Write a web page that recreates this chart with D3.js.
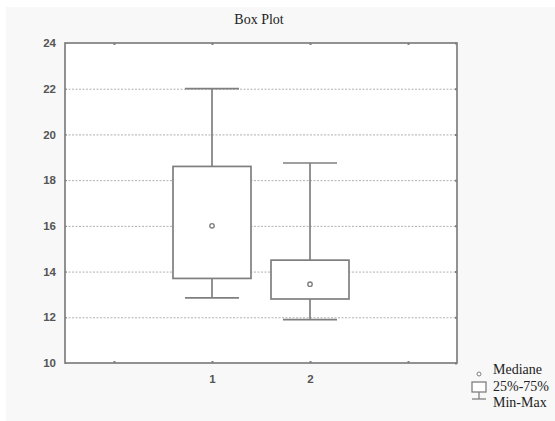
<!DOCTYPE html>
<html lang="en">
<head>
  <meta charset="UTF-8">
  <title>Box Plot</title>
  <script src="https://d3js.org/d3.v7.min.js"></script>
  <style>
    body { margin: 0; padding: 0; background: #fff; }
    svg { display: block; }
  </style>
</head>
<body>
  <svg width="555" height="421"></svg>
  <script>
    // dati
    const groups = [1, 2];
    const mins = [12.85, 11.9];
    const q1s = [13.7, 12.8];
    const medians = [16, 13.45];
    const q3s = [18.6, 14.5];
    const maxs = [22, 18.75];
    const yTicks = [10, 12, 14, 16, 18, 20, 22, 24];
    const xTicks = [0, 1, 2, 3];
    const legendLabels = ["Mediane", "25%-75%", "Min-Max"];

    const data = groups.map((g, i) => ({
      g, min: mins[i], q1: q1s[i], med: medians[i], q3: q3s[i], max: maxs[i]
    }));

    const svg = d3.select("svg");
    const lineCol = "#7f7f7f";

    // sfondo grigio chiaro
    svg.append("rect").attr("x", 6).attr("y", 7).attr("width", 549).attr("height", 414)
      .attr("fill", "#f8f8f8");

    const margin = {top: 43, left: 65, right: 98, bottom: 58};
    const W = 555 - margin.left - margin.right;
    const H = 421 - margin.top - margin.bottom;

    const x = d3.scaleLinear().domain([-0.5, 3.5]).range([0, W]);
    const y = d3.scaleLinear().domain([10, 24]).range([H, 0]);

    const g = svg.append("g").attr("transform", `translate(${margin.left},${margin.top})`);

    g.append("rect").attr("width", W).attr("height", H).attr("fill", "#fff");

    // griglia orizzontale tratteggiata
    g.append("g")
      .call(d3.axisLeft(y).tickValues(yTicks.slice(1, -1)).tickSize(-W).tickFormat(""))
      .call(s => s.select(".domain").remove())
      .selectAll("line")
      .attr("stroke", "#b0b0b0")
      .attr("stroke-dasharray", "2,1.5");

    // asse y
    const yAxis = g.append("g")
      .call(d3.axisLeft(y).tickValues(yTicks).tickSize(2).tickPadding(7));
    yAxis.select(".domain").remove();
    yAxis.selectAll("line").attr("stroke", lineCol).attr("x2", 2);
    yAxis.selectAll("text")
      .attr("font-family", "Arial, 'Liberation Sans', sans-serif")
      .attr("font-size", 11.5).attr("font-weight", "bold").attr("fill", "#555");

    // tacche a destra
    const yRight = g.append("g").attr("transform", `translate(${W},0)`)
      .call(d3.axisRight(y).tickValues(yTicks).tickSize(0).tickFormat(""));
    yRight.select(".domain").remove();
    yRight.selectAll(".tick").append("line").attr("x1", -2).attr("x2", 0)
      .attr("stroke", lineCol).attr("stroke-width", 2);

    // asse x
    const xAxis = g.append("g").attr("transform", `translate(0,${H})`)
      .call(d3.axisBottom(x).tickValues(xTicks).tickSize(0).tickPadding(12)
        .tickFormat(d => groups.includes(d) ? d : ""));
    xAxis.select(".domain").remove();
    xAxis.selectAll(".tick").append("line").attr("y1", -2).attr("y2", 0)
      .attr("stroke", lineCol).attr("stroke-width", 2);
    xAxis.selectAll("text")
      .attr("font-family", "Arial, 'Liberation Sans', sans-serif")
      .attr("font-size", 11.5).attr("font-weight", "bold").attr("fill", "#555");

    const xTop = g.append("g")
      .call(d3.axisTop(x).tickValues(xTicks).tickSize(0).tickFormat(""));
    xTop.select(".domain").remove();
    xTop.selectAll(".tick").append("line").attr("y1", 0).attr("y2", 2)
      .attr("stroke", lineCol).attr("stroke-width", 2);

    // cornice
    g.append("rect").attr("width", W).attr("height", H)
      .attr("fill", "none").attr("stroke", lineCol).attr("stroke-width", 1.7);

    // box plot
    const boxW = 78, capW = 54;
    const box = g.selectAll(".box").data(data).enter().append("g").attr("class", "box");

    box.append("line")
      .attr("x1", d => x(d.g)).attr("x2", d => x(d.g))
      .attr("y1", d => y(d.max)).attr("y2", d => y(d.q3))
      .attr("stroke", lineCol).attr("stroke-width", 1.7);
    box.append("line")
      .attr("x1", d => x(d.g)).attr("x2", d => x(d.g))
      .attr("y1", d => y(d.q1)).attr("y2", d => y(d.min))
      .attr("stroke", lineCol).attr("stroke-width", 1.7);
    box.append("line")
      .attr("x1", d => x(d.g) - capW / 2).attr("x2", d => x(d.g) + capW / 2)
      .attr("y1", d => y(d.max)).attr("y2", d => y(d.max))
      .attr("stroke", lineCol).attr("stroke-width", 1.7);
    box.append("line")
      .attr("x1", d => x(d.g) - capW / 2).attr("x2", d => x(d.g) + capW / 2)
      .attr("y1", d => y(d.min)).attr("y2", d => y(d.min))
      .attr("stroke", lineCol).attr("stroke-width", 1.7);
    box.append("rect")
      .attr("x", d => x(d.g) - boxW / 2).attr("width", boxW)
      .attr("y", d => y(d.q3)).attr("height", d => y(d.q1) - y(d.q3))
      .attr("fill", "#fff").attr("stroke", lineCol).attr("stroke-width", 1.7);
    box.append("circle")
      .attr("cx", d => x(d.g)).attr("cy", d => y(d.med)).attr("r", 2.2)
      .attr("fill", "#fff").attr("stroke", lineCol).attr("stroke-width", 1.4);

    // titolo
    svg.append("text").attr("x", margin.left + W / 2 - 2).attr("y", 24)
      .attr("text-anchor", "middle")
      .attr("font-family", "'Liberation Serif', 'Times New Roman', serif")
      .attr("font-size", 14).attr("fill", "#222")
      .text("Box Plot");

    // legenda
    const leg = svg.append("g").attr("transform", "translate(479,0)");
    leg.append("circle").attr("cx", 0).attr("cy", 374).attr("r", 2)
      .attr("fill", "#fff").attr("stroke", lineCol).attr("stroke-width", 1);
    leg.append("rect").attr("x", -7).attr("y", 382).attr("width", 14).attr("height", 10)
      .attr("fill", "#fff").attr("stroke", lineCol).attr("stroke-width", 1.3);
    leg.append("line").attr("x1", 0).attr("x2", 0).attr("y1", 392).attr("y2", 399)
      .attr("stroke", lineCol).attr("stroke-width", 1.3);
    leg.append("line").attr("x1", -7).attr("x2", 7).attr("y1", 399).attr("y2", 399)
      .attr("stroke", lineCol).attr("stroke-width", 1.3);
    leg.selectAll("text.leg").data(legendLabels).enter().append("text")
      .attr("class", "leg")
      .attr("x", 14).attr("y", (d, i) => 374 + i * 16.5)
      .attr("font-family", "'Liberation Serif', 'Times New Roman', serif")
      .attr("font-size", 14).attr("fill", "#222")
      .text(d => d);
  </script>
</body>
</html>
